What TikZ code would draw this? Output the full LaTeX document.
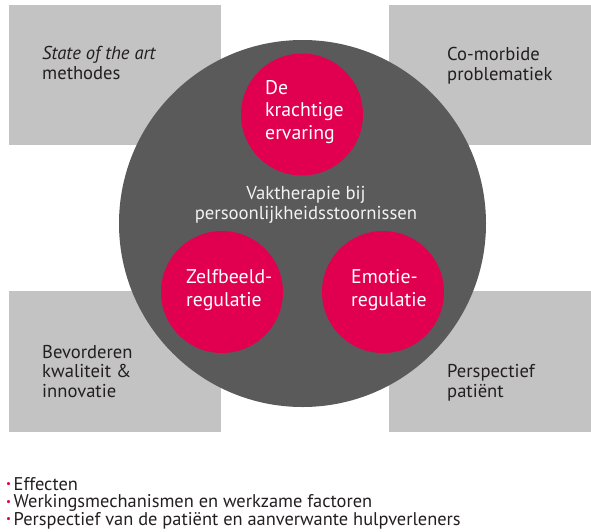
\documentclass[tikz,border=0pt]{standalone}
\usepackage{fontspec}
\setmainfont{PT Sans}
\definecolor{panel}{HTML}{C3C3C3}
\definecolor{core}{HTML}{5A5A5A}
\definecolor{accent}{HTML}{E1004F}
\definecolor{ink}{HTML}{231F20}
\definecolor{paper}{HTML}{F2F2F2}
\newcommand{\reddot}{\raisebox{2.5pt}{\color{accent}\fontsize{11}{11}\selectfont•}\hspace{2.5pt}}
\begin{document}
\begin{tikzpicture}[x=1pt,y=-1pt,
  panelbox/.style={fill=panel, draw=none, anchor=north west, inner sep=0pt, outer sep=0pt},
  focus/.style={circle, fill=accent, draw=none, minimum size=122pt, inner sep=0pt},
  % multi-line labels are placed by the baseline of their last line
  paneltext/.style={anchor=base west, align=left, inner sep=0pt, text=ink,
    font=\fontsize{18.6}{20}\selectfont},
  focustext/.style={anchor=base west, align=left, inner sep=0pt, text=white,
    font=\fontsize{19.8}{22.5}\selectfont},
  listtext/.style={anchor=base west, align=left, inner sep=0pt, text=ink,
    font=\fontsize{18.4}{17.5}\selectfont},
]
\useasboundingbox (0,0) rectangle (591,531);

% four outer fields
\node[panelbox, minimum width=212pt, minimum height=140pt] (fieldTL) at (9,5) {};
\node[panelbox, minimum width=202pt, minimum height=140pt] (fieldTR) at (389,5) {};
\node[panelbox, minimum width=212pt, minimum height=141pt] (fieldBL) at (9,291) {};
\node[panelbox, minimum width=202pt, minimum height=141pt] (fieldBR) at (389,291) {};

% central disc
\node[circle, fill=core, draw=none, minimum size=367pt, inner sep=0pt] (core) at (302.5,223.5) {};

% three focus discs
\node[focus] (kracht) at (302,114.5) {};
\node[focus] (zelf) at (222,292) {};
\node[focus] (emotie) at (383,292) {};

% field labels
\node[paneltext] (tTL) at (42,79) {\textit{State of the art}\\methodes};
\node[paneltext] (tTR) at (447,80) {Co-morbide\\problematiek};
\node[paneltext, font=\fontsize{18.6}{19.5}\selectfont] (tBL) at (42,397) {Bevorderen\\kwaliteit \&\\innovatie};
\node[paneltext, font=\fontsize{18.6}{19.5}\selectfont] (tBR) at (447,397) {Perspectief\\patiënt};

% focus labels
\node[focustext] (tK) at (265,139) {De\\krachtige\\ervaring};
\node[focustext] (tZ) at (186,306) {Zelfbeeld-\\regulatie};
\node[focustext] (tE) at (351,306) {Emotie-\\regulatie};

% central title
\node[anchor=base, align=center, inner sep=0pt, text=paper,
  font=\fontsize{18.7}{20}\selectfont] (title) at (306,219)
  {Vaktherapie bij\\persoonlijkheidsstoornissen};

% bullet list
\node[listtext] (list) at (6,525)
  {\reddot Effecten\\
   \reddot Werkingsmechanismen en werkzame factoren\\
   \reddot Perspectief van de patiënt en aanverwante hulpverleners};
\end{tikzpicture}
\end{document}
